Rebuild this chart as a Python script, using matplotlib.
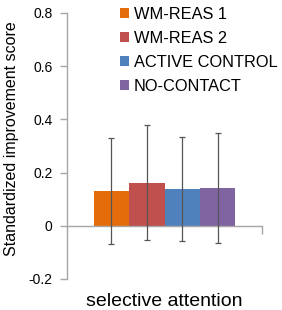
import matplotlib
matplotlib.use("Agg")
import matplotlib.pyplot as plt
from matplotlib.patches import Patch

plt.rcParams["font.family"] = ["Liberation Sans", "DejaVu Sans"]

groups = ["WM-REAS 1", "WM-REAS 2", "ACTIVE CONTROL", "NO-CONTACT"]
values = [0.13, 0.162, 0.138, 0.142]
errors = [0.2, 0.217, 0.195, 0.205]
colors = ["#E46C0A", "#C0504D", "#4F81BD", "#8064A2"]
category = "selective attention"

fig = plt.figure(figsize=(2.82, 3.10), dpi=100)
ax = fig.add_axes([67 / 282, 31 / 310, 195 / 282, 266 / 310])

width = 0.182
n = len(groups)
for i, (v, e, c) in enumerate(zip(values, errors, colors)):
    x = (i - (n - 1) / 2) * width
    ax.bar(x, v, width=width, color=c, edgecolor="none", zorder=2)
    ax.errorbar(x, v, yerr=e, fmt="none", ecolor="#555555", elinewidth=0.9,
                capsize=2.5, capthick=0.9, zorder=3)

ax.set_xlim(-0.5, 0.5)
ax.set_ylim(-0.2, 0.8)
ax.set_yticks([-0.2, 0, 0.2, 0.4, 0.6, 0.8], ["-0.2", "0", "0.2", "0.4", "0.6", "0.8"])
ax.set_xticks([0.5], [""])
ax.spines["top"].set_visible(False)
ax.spines["right"].set_visible(False)
ax.spines["bottom"].set_position(("data", 0))
for s in ("left", "bottom"):
    ax.spines[s].set_color("#A6A6A6")
    ax.spines[s].set_linewidth(1.0)
ax.tick_params(axis="both", colors="#A6A6A6", labelcolor="black", labelsize=10,
               length=5, width=1.0, pad=5.5)
ax.tick_params(axis="x", length=6)
ax.set_ylabel("Standardized improvement score", fontsize=11.5)
ax.yaxis.set_label_coords(-0.246, 0.526)
fig.text(164 / 282, 1 - 302 / 310, category, ha="center", va="center", fontsize=14)

handles = [Patch(facecolor=c, edgecolor="none") for c in colors]
ax.legend(handles, groups, loc="upper left", bbox_to_anchor=(0.272, 1.023),
          frameon=False, fontsize=11.8, handlelength=0.55, handleheight=0.55,
          handletextpad=0.3, labelspacing=0.55, borderaxespad=0, borderpad=0)

fig.savefig("out.png", dpi=100)
